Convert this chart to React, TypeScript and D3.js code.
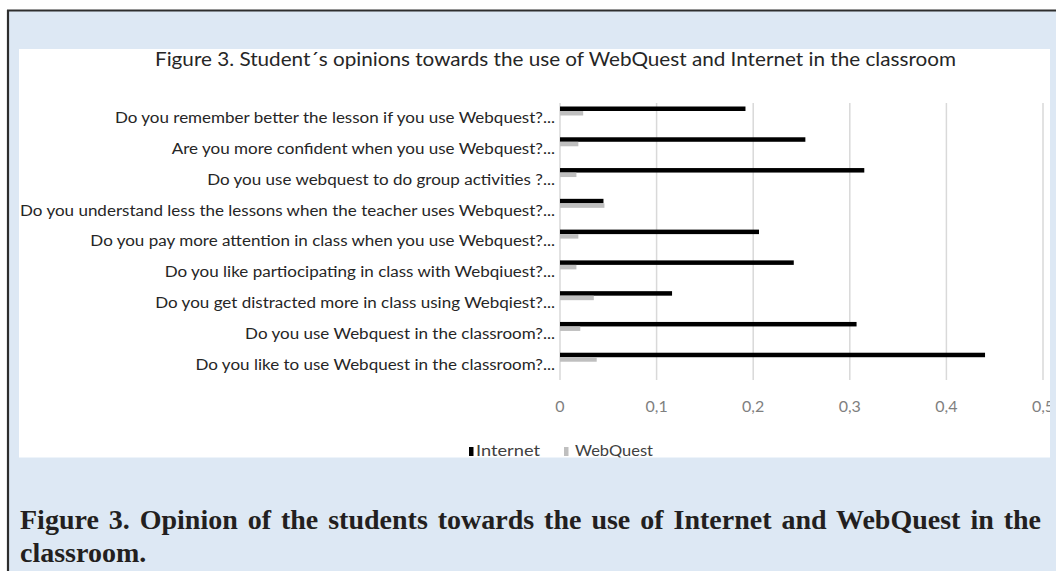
import { useEffect, useRef } from 'react';
import * as d3 from 'd3';

// questions, top to bottom as they appear in the chart
const categories = [
  'Do you remember better the lesson if you use Webquest?...',
  'Are you more confident when you use Webquest?...',
  'Do you use webquest to do group activities ?...',
  'Do you understand less the lessons when the teacher uses Webquest?...',
  'Do you pay more attention in class when you use Webquest?...',
  'Do you like partiocipating in class with Webqiuest?...',
  'Do you get distracted more in class using Webqiest?...',
  'Do you use Webquest in the classroom?...',
  'Do you like to use Webquest in the classroom?...',
];

const internet = [0.192, 0.254, 0.315, 0.045, 0.206, 0.242, 0.116, 0.307, 0.44];
const webquest = [0.024, 0.019, 0.017, 0.046, 0.019, 0.017, 0.035, 0.021, 0.038];

const seriesNames = ['Internet', 'WebQuest'];
const seriesColors = ['#000000', '#bfbfbf'];
const xTicks = [0, 0.1, 0.2, 0.3, 0.4, 0.5];

const chartTitle = 'Figure 3. Student\u00b4s opinions towards the use of WebQuest and Internet in the classroom';
const captionLines = [
  'Figure 3.  Opinion of the students towards the use of Internet and WebQuest in the',
  'classroom.',
];

const W = 1056;
const H = 571;
const panel = { left: 19, top: 49, right: 1050, bottom: 457.5 };
const plot = { left: 560, right: 1043, top: 103, bottom: 380 };
const labelRight = 555;
const sans = 'Lato, "Open Sans", sans-serif';

export default function App() {
  const captionRef = useRef<SVGTextElement>(null);
  const labelsRef = useRef<SVGGElement>(null);

  useEffect(() => {
    // justify the first caption line like the printed page
    const el = captionRef.current;
    if (el) {
      el.style.wordSpacing = '0px';
      const natural = el.getComputedTextLength();
      const gaps = (captionLines[0].match(/ +/g) || []).length;
      el.style.wordSpacing = `${(1040 - panel.left - natural) / gaps}px`;
    }
    // the original labels are set wider; stretch them evenly so the longest meets the panel edge
    const labels = d3.select(labelsRef.current).selectAll<SVGTextElement, unknown>('text');
    const lengths = labels.nodes().map((n) => n.getComputedTextLength());
    const k = (labelRight - panel.left - 1) / (d3.max(lengths) ?? 1);
    labels
      .attr('textLength', (_, i) => lengths[i] * k)
      .attr('lengthAdjust', 'spacingAndGlyphs');
  }, []);

  const x = d3.scaleLinear().domain([0, 0.5]).range([plot.left, plot.right]);
  const y = d3.scaleBand().domain(categories).range([plot.top, plot.bottom]);
  const inner = d3.scaleBand().domain(seriesNames).range([3.5, 12.5]);
  const fmt = (v: number) => (v === 0 ? '0' : d3.format('.1f')(v).replace('.', ','));

  const rows = categories.map((c, i) => ({ c, values: [internet[i], webquest[i]] }));

  return (
    <svg
      width={W}
      height={H}
      style={{ position: 'absolute', left: 0, top: 0, display: 'block' }}
    >
      <defs>
        <clipPath id="panel-clip">
          <rect x={panel.left} y={panel.top} width={panel.right - panel.left} height={panel.bottom - panel.top} />
        </clipPath>
      </defs>
      <rect x={0} y={0} width={W} height={H} fill="#ffffff" />
      <rect x={8} y={11} width={W - 8} height={H - 11} fill="#dde8f4" />
      <line x1={7} x2={W} y1={10.5} y2={10.5} stroke="#2e2e2e" strokeWidth={2.2} />
      <line x1={8} x2={8} y1={10} y2={H} stroke="#2e2e2e" strokeWidth={2.2} />

      <rect
        x={panel.left}
        y={panel.top}
        width={panel.right - panel.left}
        height={panel.bottom - panel.top}
        fill="#ffffff"
      />

      <g clipPath="url(#panel-clip)">
        <text
          x={155}
          y={65.5}
          fontFamily={sans}
          fontSize={19}
          fill="#262626"
          textLength={801}
          lengthAdjust="spacingAndGlyphs"
        >
          {chartTitle}
        </text>

        {xTicks.map((t) => (
          <g key={t}>
            <line x1={x(t)} x2={x(t)} y1={plot.top} y2={plot.bottom} stroke="#d9d9d9" strokeWidth={1.5} />
            <text
              x={x(t)}
              y={412}
              textAnchor="middle"
              fontFamily={sans}
              fontSize={16}
              fill="#7f7f7f"
            >
              {fmt(t)}
            </text>
          </g>
        ))}

        {rows.map((r) => (
          <g key={r.c} transform={`translate(0,${y(r.c)})`}>
            {r.values.map((v, j) => (
              <rect
                key={seriesNames[j]}
                x={x(0)}
                y={inner(seriesNames[j])}
                width={x(v) - x(0)}
                height={inner.bandwidth()}
                fill={seriesColors[j]}
              />
            ))}
          </g>
        ))}

        <g ref={labelsRef} fontFamily={sans} fontSize={14.5} fill="#262626" textAnchor="end">
          {categories.map((c) => (
            <text key={c} x={labelRight} y={(y(c) ?? 0) + y.bandwidth() / 2 + 1.3} dominantBaseline="middle">
              {c}
            </text>
          ))}
        </g>

        <g fontFamily={sans} fontSize={14.5} fill="#404040">
          <rect x={469} y={447} width={4.5} height={9} fill={seriesColors[0]} />
          <text x={476} y={456} textLength={64} lengthAdjust="spacingAndGlyphs">
            {seriesNames[0]}
          </text>
          <rect x={564} y={447} width={4.5} height={9} fill={seriesColors[1]} />
          <text x={575} y={456} textLength={78} lengthAdjust="spacingAndGlyphs">
            {seriesNames[1]}
          </text>
        </g>
      </g>

      <g fontFamily='"Liberation Serif", "Times New Roman", serif' fontWeight="bold" fontSize={28} fill="#231f20">
        <text ref={captionRef} x={panel.left + 1} y={529}>
          {captionLines[0]}
        </text>
        <text x={panel.left + 1} y={562}>
          {captionLines[1]}
        </text>
      </g>
    </svg>
  );
}
